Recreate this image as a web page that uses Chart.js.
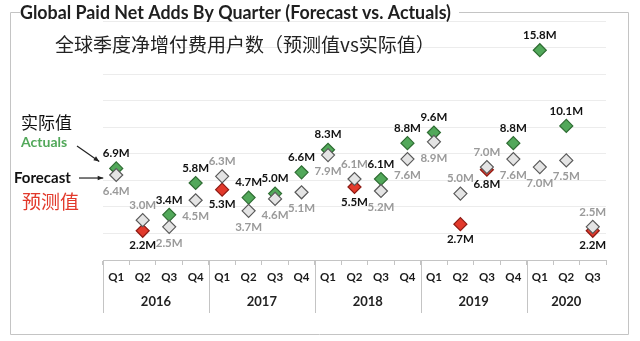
<!DOCTYPE html>
<html>
<head>
<meta charset="utf-8">
<script src="https://cdn.jsdelivr.net/npm/chart.js@4.4.0/dist/chart.umd.min.js"></script>
<style>
  html, body { margin: 0; padding: 0; background: #fff; }
  #wrap { width: 640px; height: 341px; }
</style>
</head>
<body>
<div id="wrap"><canvas id="adds_chart" width="640" height="341"></canvas></div>
<script>
// Paid net adds per quarter, millions

const quarters = ['Q1', 'Q2', 'Q3', 'Q4', 'Q1', 'Q2', 'Q3', 'Q4', 'Q1', 'Q2', 'Q3', 'Q4', 'Q1', 'Q2', 'Q3', 'Q4', 'Q1', 'Q2', 'Q3'];
const years = ['2016', '2017', '2018', '2019', '2020'];
const quartersPerYear = [4, 4, 4, 4, 3];

const forecast = [6.4, 3.0, 2.5, 4.5, 6.3, 3.7, 4.6, 5.1, 7.9, 6.1, 5.2, 7.6, 8.9, 5.0, 7.0, 7.6, 7.0, 7.5, 2.5];
const actuals = [6.9, 2.2, 3.4, 5.8, 5.3, 4.7, 5.0, 6.6, 8.3, 5.5, 6.1, 8.8, 9.6, 2.7, 6.8, 8.8, 15.8, 10.1, 2.2];

const beatFill = '#52a85a';
const beatLine = '#2f6d33';
const missFill = '#e2392b';
const missLine = '#8e1b14';

const actualFill = actuals.map((v, i) => v >= forecast[i] ? beatFill : missFill);
const actualLine = actuals.map((v, i) => v >= forecast[i] ? beatLine : missLine);

function arrow(ctx, x1, y1, x2, y2) {
    const a = Math.atan2(y2 - y1, x2 - x1);
    ctx.beginPath();
    ctx.moveTo(x1, y1);
    ctx.lineTo(x2, y2);
    ctx.stroke();
    ctx.beginPath();
    ctx.moveTo(x2, y2);
    ctx.lineTo(x2 - 6 * Math.cos(a - 0.4), y2 - 6 * Math.sin(a - 0.4));
    ctx.lineTo(x2 - 6 * Math.cos(a + 0.4), y2 - 6 * Math.sin(a + 0.4));
    ctx.closePath();
    ctx.fill();
}

// value labels: the higher of the pair goes above, the lower below
const valueLabels = {
    id: 'valueLabels',
    afterDatasetsDraw(chart) {
        const ctx = chart.ctx;
        const aMeta = chart.getDatasetMeta(0);
        const fMeta = chart.getDatasetMeta(1);
        ctx.save();
        ctx.font = 'bold 11.5px Lato';
        ctx.textAlign = 'center';
        ctx.textBaseline = 'middle';
        actuals.forEach((a, i) => {
            const f = forecast[i];
            const ap = aMeta.data[i];
            const fp = fMeta.data[i];
            const aUp = a >= f;
            ctx.fillStyle = '#111';
            ctx.fillText(a.toFixed(1) + 'M', ap.x, ap.y + (aUp ? -15 : 15));
            ctx.fillStyle = '#9a9a9a';
            ctx.fillText(f.toFixed(1) + 'M', fp.x, fp.y + (aUp ? 16 : -15));
        });
        ctx.restore();
    }
};

// frame, titles, year row and the side notes
const decorations = {
    id: 'decorations',
    afterDraw(chart) {
        const ctx = chart.ctx;
        const x = chart.scales.x;
        const area = chart.chartArea;
        ctx.save();

        // frame with the title breaking the top edge
        ctx.strokeStyle = '#c4c4c4';
        ctx.lineWidth = 1;
        ctx.beginPath();
        ctx.moveTo(20, 12.5);
        ctx.lineTo(10.5, 12.5);
        ctx.lineTo(10.5, 334.5);
        ctx.lineTo(628.5, 334.5);
        ctx.lineTo(628.5, 12.5);
        ctx.lineTo(459, 12.5);
        ctx.stroke();

        ctx.fillStyle = '#1f1f1f';
        ctx.textBaseline = 'middle';
        ctx.textAlign = 'left';
        ctx.font = 'bold 18px Lato';
        ctx.fillText('Global Paid Net Adds By Quarter (Forecast vs. Actuals)', 20, 13, 431);

        ctx.font = '19px "Noto Sans CJK SC"';
        ctx.fillStyle = '#222';
        ctx.fillText('全球季度净增付费用户数（预测值vs实际值）', 55, 45);

        // year row under the quarter labels
        const step = x.getPixelForValue(1) - x.getPixelForValue(0);
        ctx.strokeStyle = '#c4c4c4';
        ctx.beginPath();
        let start = 0;
        ctx.moveTo(area.left + 0.5, area.bottom);
        ctx.lineTo(area.left + 0.5, 313);
        ctx.font = 'bold 13px Lato';
        ctx.fillStyle = '#222';
        ctx.textAlign = 'center';
        years.forEach((yr, k) => {
            const n = quartersPerYear[k];
            const left = x.getPixelForValue(start) - step / 2;
            const right = x.getPixelForValue(start + n - 1) + step / 2;
            if (k < years.length - 1) {
                ctx.moveTo(Math.round(right) + 0.5, area.bottom);
                ctx.lineTo(Math.round(right) + 0.5, 313);
            }
            ctx.fillText(yr, (left + right) / 2, 302);
            start += n;
        });
        ctx.stroke();

        // side notes pointing at the first pair of points
        const a0 = chart.getDatasetMeta(0).data[0];
        const f0 = chart.getDatasetMeta(1).data[0];
        ctx.textAlign = 'left';
        ctx.fillStyle = '#111';
        ctx.font = '17px "Noto Sans CJK SC"';
        ctx.fillText('实际值', 21, 123);
        ctx.fillStyle = beatFill;
        ctx.font = 'bold 14px Lato';
        ctx.fillText('Actuals', 21, 142);
        ctx.fillStyle = '#111';
        ctx.font = 'bold 15px Lato';
        ctx.fillText('Forecast', 14, 178);
        ctx.fillStyle = missFill;
        ctx.font = '19px "Noto Sans CJK SC"';
        ctx.fillText('预测值', 22, 202);

        ctx.strokeStyle = '#222';
        ctx.fillStyle = '#222';
        ctx.lineWidth = 1.2;
        arrow(ctx, 77, 146, a0.x - 17, a0.y - 7);
        arrow(ctx, 79, f0.y + 3, f0.x - 13, f0.y + 3);

        ctx.restore();
    }
};

const adds_chart_ctx = document.getElementById('adds_chart').getContext('2d');
const adds_chart = new Chart(adds_chart_ctx, {
    type: 'line',
    data: {
        labels: quarters,
        datasets: [
            {
                label: 'Actuals',
                data: actuals,
                showLine: false,
                pointStyle: 'rectRot',
                pointRadius: 6.5,
                pointBorderWidth: 1.2,
                pointBackgroundColor: actualFill,
                pointBorderColor: actualLine,
                order: 1
            },
            {
                label: 'Forecast',
                data: forecast,
                showLine: false,
                pointStyle: 'rectRot',
                pointRadius: 6.5,
                pointBorderWidth: 1.2,
                pointBackgroundColor: '#e4e4e4',
                pointBorderColor: '#5a5a5a',
                order: 0
            }
        ]
    },
    options: {
        responsive: false,
        animation: false,
        layout: {
            padding: { left: 103, right: 34, top: 21, bottom: 0 }
        },
        plugins: {
            legend: { display: false },
            tooltip: { enabled: false }
        },
        scales: {
            x: {
                offset: true,
                grid: {
                    offset: true,
                    drawOnChartArea: false,
                    tickLength: 5,
                    color: '#c4c4c4'
                },
                border: { color: '#c4c4c4' },
                ticks: {
                    color: '#1a1a1a',
                    font: { family: 'Lato', size: 11.5, weight: 'bold' },
                    padding: 5,
                    maxRotation: 0,
                    autoSkip: false
                },
                afterFit: (s) => { s.height = 81; }
            },
            y: {
                min: 0,
                max: 18,
                ticks: { display: false, stepSize: 2 },
                grid: { color: '#ececec', drawTicks: false },
                border: { display: false },
                afterFit: (s) => { s.width = 0; }
            }
        }
    },
    plugins: [valueLabels, decorations]
});
</script>
</body>
</html>
